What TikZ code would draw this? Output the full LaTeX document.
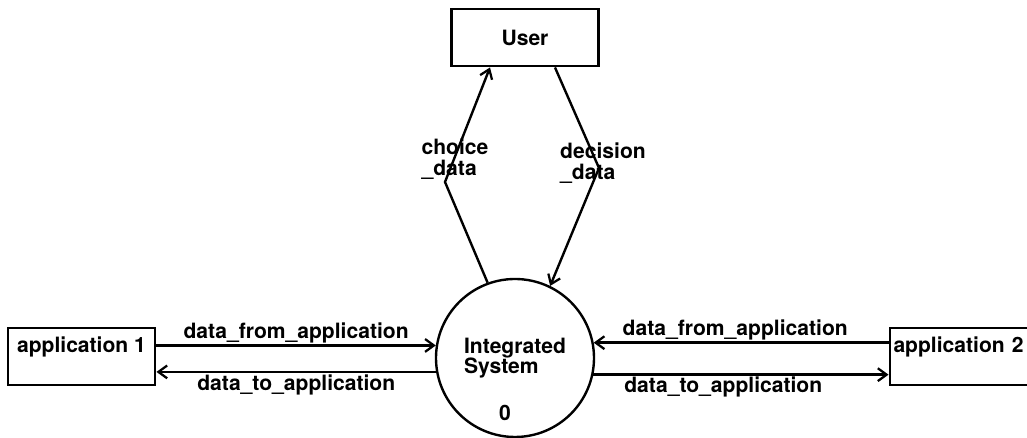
\documentclass[tikz,border=0pt]{standalone}
\usepackage{fontspec}
\setmainfont{TeX Gyre Heros}
\usepackage{tikz}
\usetikzlibrary{arrows.meta, positioning}
\tikzset{
    extbox/.style={rectangle, draw=black, line width=2.1pt, minimum width=3.675cm, inner sep=0pt, text height=0.625cm, text depth=0.8cm},
    userbox/.style={rectangle, draw=black, line width=2.1pt, minimum width=3.675cm, minimum height=1.425cm},
    process/.style={circle, draw=black, line width=1.7pt, minimum size=3.95cm, inner sep=0pt, align=left},
    flow/.style={line width=1.7pt, -{Straight Barb[length=2.2mm, width=3.2mm, line width=1.6pt]}},
    flowlbl/.style={inner sep=2pt, align=left, font=\fontsize{15}{15}\selectfont\bfseries}
}

\begin{document}
\begin{tikzpicture}[font=\fontsize{15}{14.5}\selectfont\bfseries]
            \useasboundingbox (0,0) rectangle (25.675,10.95);

            % Terminators and the process
            \node[userbox] (user) at (13.125, 10.0125) {User};
            \node[process] (sys) at (12.875, 2.0) {Integrated\\System};
            \node (sysnum) at (12.625, 0.625) {0};
            \node[extbox] (app1) at (2.0375, 2.0375) {application 1};
            \node[extbox, text width=3.5cm, align=left] (app2) at (24.0875, 2.0375) {application 2};

            % Bends of the user flows
            \coordinate (choicebend) at (11.125, 6.4);
            \coordinate (decisionbend) at (14.975, 6.75);

            % Flows to and from the user
            \draw[flow] (sys.110) -- (choicebend) -- ([xshift=-0.875cm]user.south);
            \draw[flow] ([xshift=0.75cm]user.south) -- (decisionbend) -- (sys.64);
            \node[flowlbl] (choicelbl) at (11.375, 6.975) {choice\\\_data};
            \node[flowlbl] (decisionlbl) at (15.075, 6.875) {decision\\\_data};

            % Flows to and from the applications
            \draw[flow] (app1.east |- sys.171) -- node[above, inner sep=1pt] (fromapp1) {data\_from\_application} (sys.171);
            \draw[flow] (sys.190) -- node[below, inner sep=1pt] (toapp1) {data\_to\_application} (sys.190 -| app1.east);
            \draw[flow] (app2.west |- sys.11) -- node[above, pos=0.52, inner sep=1pt] (fromapp2) {data\_from\_application} (sys.11);
            \draw[flow] (sys.348) -- node[below, pos=0.44, inner sep=1pt] (toapp2) {data\_to\_application} (sys.348 -| app2.west);
        \end{tikzpicture}
\end{document}
